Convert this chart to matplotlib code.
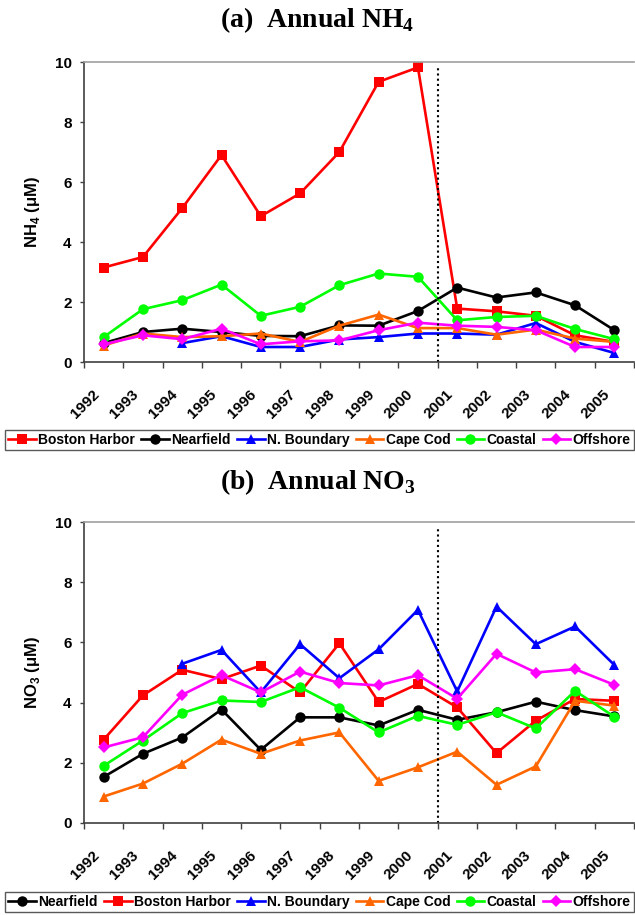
import matplotlib
matplotlib.use("Agg")
import matplotlib.pyplot as plt
import matplotlib.transforms as mtransforms
import numpy as np

plt.rcParams['font.family'] = ['Liberation Sans', 'DejaVu Sans']
plt.rcParams['font.weight'] = 'bold'
plt.rcParams['mathtext.fontset'] = 'custom'
plt.rcParams['mathtext.rm'] = 'Liberation Serif:bold'
plt.rcParams['mathtext.sf'] = 'Liberation Sans:bold'

years = ['1992', '1993', '1994', '1995', '1996', '1997', '1998',
         '1999', '2000', '2001', '2002', '2003', '2004', '2005']
nan = np.nan

# (a) Annual NH4 (uM)
nh4_boston = [3.15, 3.50, 5.13, 6.90, 4.86, 5.62, 7.00, 9.34, 9.82, 1.78, 1.69, 1.54, 0.89, 0.67]
nh4_nearfield = [0.63, 1.00, 1.11, 1.00, 0.87, 0.86, 1.22, 1.21, 1.70, 2.48, 2.15, 2.32, 1.89, 1.06]
nh4_nboundary = [nan, nan, 0.63, 0.86, 0.50, 0.50, 0.75, 0.83, 0.95, 0.95, 0.91, 1.30, 0.67, 0.30]
nh4_capecod = [0.55, 0.95, 0.83, 0.86, 0.95, 0.67, 1.21, 1.58, 1.13, 1.13, 0.91, 1.08, 0.78, 0.67]
nh4_coastal = [0.83, 1.76, 2.06, 2.58, 1.54, 1.84, 2.56, 2.95, 2.84, 1.39, 1.50, 1.54, 1.10, 0.76]
nh4_offshore = [0.59, 0.89, 0.76, 1.11, 0.59, 0.69, 0.72, 1.06, 1.31, 1.21, 1.17, 1.06, 0.50, 0.50]

# (b) Annual NO3 (uM)
no3_nearfield = [1.53, 2.30, 2.84, 3.77, 2.43, 3.51, 3.51, 3.24, 3.76, 3.43, 3.68, 4.03, 3.75, 3.54]
no3_boston = [2.77, 4.24, 5.09, 4.78, 5.23, 4.34, 5.97, 4.02, 4.62, 3.84, 2.32, 3.40, 4.12, 4.06]
no3_nboundary = [nan, nan, 5.29, 5.75, 4.34, 5.94, 4.81, 5.77, 7.08, 4.37, 7.19, 5.94, 6.53, 5.25]
no3_capecod = [0.88, 1.31, 1.97, 2.77, 2.30, 2.74, 3.01, 1.40, 1.85, 2.37, 1.27, 1.88, 4.06, 3.90]
no3_coastal = [1.90, 2.74, 3.65, 4.07, 4.02, 4.51, 3.83, 3.01, 3.56, 3.26, 3.68, 3.14, 4.39, 3.53]
no3_offshore = [2.51, 2.85, 4.26, 4.91, 4.34, 5.03, 4.65, 4.57, 4.91, 4.13, 5.62, 5.00, 5.11, 4.59]

styles = {
    'Boston Harbor': dict(color='#FF0000', marker='s', ms=7.5),
    'Nearfield': dict(color='#000000', marker='o', ms=7.5),
    'N. Boundary': dict(color='#0000FF', marker='^', ms=7.5),
    'Cape Cod': dict(color='#FF6600', marker='^', ms=7.5),
    'Coastal': dict(color='#00FF00', marker='o', ms=7.5),
    'Offshore': dict(color='#FF00FF', marker='D', ms=6.5),
}

series_a = [('Boston Harbor', nh4_boston), ('Nearfield', nh4_nearfield),
            ('N. Boundary', nh4_nboundary), ('Cape Cod', nh4_capecod),
            ('Coastal', nh4_coastal), ('Offshore', nh4_offshore)]
series_b = [('Nearfield', no3_nearfield), ('Boston Harbor', no3_boston),
            ('N. Boundary', no3_nboundary), ('Cape Cod', no3_capecod),
            ('Coastal', no3_coastal), ('Offshore', no3_offshore)]

fig = plt.figure(figsize=(6.35, 9.15), dpi=100)
ax_a = fig.add_axes([84/635, 1-362/915, 550/635, 300/915])
ax_b = fig.add_axes([84/635, 1-823/915, 550/635, 301/915])

x = np.arange(len(years))


def setup(ax, series, ylabel, title, title_y, leg_y):
    handles = []
    for name, vals in series:
        st = styles[name]
        h, = ax.plot(x, vals, color=st['color'], marker=st['marker'],
                     markersize=st['ms'], lw=1.9, markeredgewidth=0, label=name,
                     clip_on=False)
        handles.append(h)
    ax.axvline(8.5, ymin=0, ymax=0.985, color='black', ls=(0, (1, 1.5)), lw=1.5)
    ax.set_xlim(-0.5, len(years) - 0.5)
    ax.set_ylim(0, 10)
    ax.set_yticks([0, 2, 4, 6, 8, 10])
    ax.set_xticks(np.arange(-0.5, len(years), 1.0))
    ax.set_xticklabels([])
    ax.set_xticks(x, minor=True)
    ax.set_xticklabels(years, minor=True, rotation=45, ha='right', va='top',
                       rotation_mode='anchor', fontsize=11, fontweight='bold')
    ax.tick_params(axis='x', which='major', direction='out', length=4,
                   width=1, color='#404040')
    ax.tick_params(axis='x', which='minor', length=0, pad=18)
    ax.tick_params(axis='y', direction='out', length=3, width=1,
                   color='#404040', labelsize=11, pad=6)
    for lab in ax.get_yticklabels():
        lab.set_fontweight('bold')
    off = mtransforms.ScaledTranslation(-8.5/72, 0, fig.dpi_scale_trans)
    for lab in ax.xaxis.get_minorticklabels():
        lab.set_transform(lab.get_transform() + off)
    ax.spines['right'].set_visible(False)
    ax.spines['top'].set_color('#A0A0A0')
    ax.spines['top'].set_linewidth(1.2)
    ax.spines['left'].set_color('#404040')
    ax.spines['bottom'].set_color('#404040')
    ax.spines['left'].set_linewidth(1.2)
    ax.spines['bottom'].set_linewidth(1.2)
    ax.set_ylabel(ylabel, fontsize=12, fontweight='bold', labelpad=9)
    fig.text(0.5, title_y, title, ha='center', va='center', fontsize=20,
             fontweight='bold', family='Liberation Serif')
    leg = fig.legend(handles=handles, loc='center', bbox_to_anchor=(0.503, leg_y),
                     ncol=6, frameon=True, fancybox=False, edgecolor='#303030',
                     handlelength=2.0, handletextpad=0.15, columnspacing=0.45,
                     borderpad=0.25, prop=dict(size=10, weight='bold'),
                     borderaxespad=0)
    leg.get_frame().set_linewidth(1.0)


setup(ax_a, series_a, r'NH$_\mathsf{4}$ (μM)', r'(a)  Annual NH$_\mathrm{4}$',
      1 - 20/915, 1 - 440/915)
setup(ax_b, series_b, r'NO$_\mathsf{3}$ (μM)', r'(b)  Annual NO$_\mathrm{3}$',
      1 - 482/915, 1 - 902/915)

fig.savefig('out.png', dpi=100)
